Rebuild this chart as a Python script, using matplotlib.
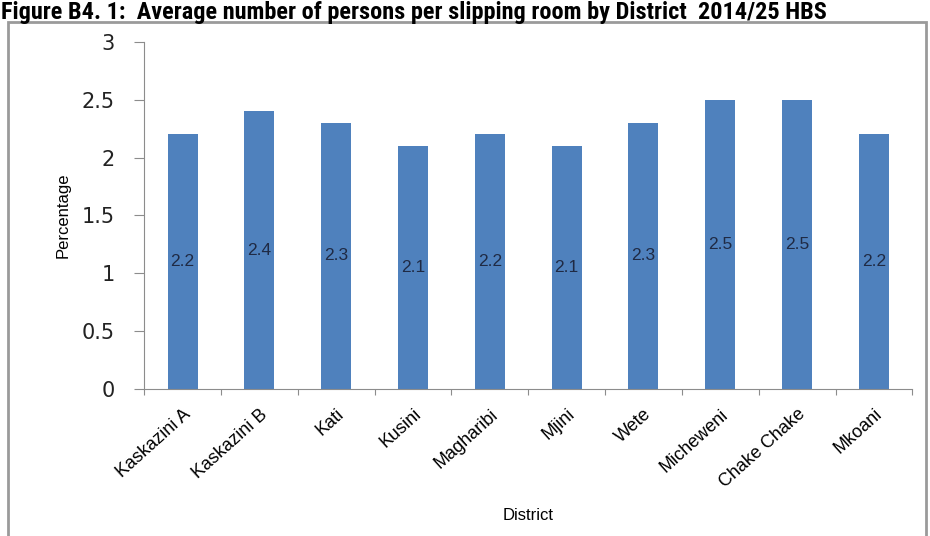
import matplotlib
matplotlib.use("Agg")
import matplotlib.pyplot as plt
from matplotlib.patches import Rectangle

districts = ["Kaskazini A", "Kaskazini B", "Kati", "Kusini", "Magharibi",
             "Mjini", "Wete", "Micheweni", "Chake Chake", "Mkoani"]
persons = [2.2, 2.4, 2.3, 2.1, 2.2, 2.1, 2.3, 2.5, 2.5, 2.2]
yticks = [0, 0.5, 1, 1.5, 2, 2.5, 3]
ytick_labels = ["0", "0.5", "1", "1.5", "2", "2.5", "3"]

arial = ["Liberation Sans", "DejaVu Sans"]
title_font = ["Roboto Condensed", "DejaVu Sans"]

fig = plt.figure(figsize=(9.3, 5.36), dpi=100)
ax = fig.add_axes([0.155, 0.274, 0.826, 0.648])

# outer frame of the chart area
fig.patches.append(Rectangle((0.009, -0.05), 0.987, 1.009, transform=fig.transFigure,
                             fill=False, edgecolor="#9a9a9a", linewidth=2))

x = range(len(districts))
ax.bar(x, persons, width=0.39, color="#4f81bd")
for i, v in enumerate(persons):
    ax.text(i, v / 2, f"{v}", ha="center", va="center", fontsize=12.5,
            color="#1f2a44", family=arial)

ax.set_xlim(-0.5, len(districts) - 0.5)
ax.set_ylim(0, 3)
ax.set_yticks(yticks)
ax.set_yticklabels(ytick_labels, fontsize=15, color="#222222")
ax.set_xticks([i + 0.5 for i in range(-1, len(districts))], minor=False)
ax.set_xticklabels([])
ax.set_xticks(list(x), minor=True)
ax.set_xticklabels(districts, minor=True, rotation=42, ha="right",
                   rotation_mode="anchor", fontsize=13, family=arial)
ax.tick_params(axis="x", which="minor", length=0, pad=12)
ax.tick_params(axis="x", which="major", length=4, color="#8c8c8c")
ax.tick_params(axis="y", length=7, color="#8c8c8c", pad=14)

for s in ["top", "right"]:
    ax.spines[s].set_visible(False)
for s in ["left", "bottom"]:
    ax.spines[s].set_color("#8c8c8c")

ax.set_ylabel("Percentage", fontsize=12, family=arial, labelpad=8)
ax.set_xlabel("District", fontsize=12, family=arial, labelpad=12)

fig.text(0.001, 0.999, "Figure B4. 1:  Average number of persons per slipping room by District  2014/25 HBS",
         ha="left", va="top", fontsize=17.5, fontweight="bold", family=title_font)

fig.savefig("out.png", dpi=100)
